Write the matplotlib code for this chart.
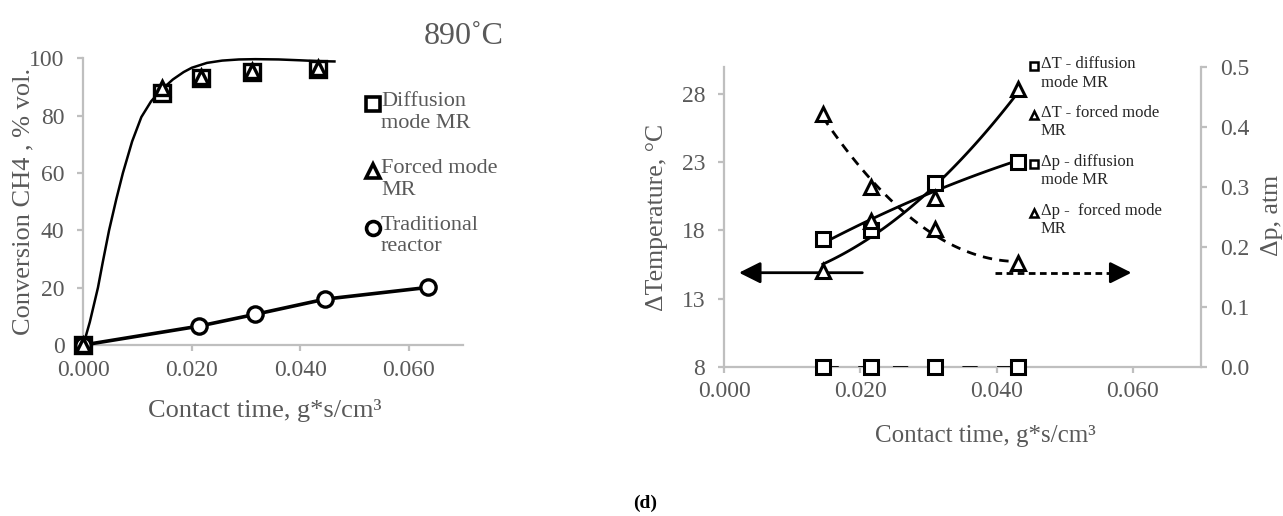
import numpy as np
import matplotlib
matplotlib.use("Agg")
import matplotlib.pyplot as plt
from matplotlib.ticker import FormatStrFormatter

plt.rcParams['font.family'] = ['Liberation Serif', 'DejaVu Serif']

W, H = 1283, 516

# ---- left panel data: CH4 conversion ----
mr_x = [0.0, 0.0145, 0.0217, 0.0311, 0.0433]
diffusion_conv = [0.0, 87.8, 93.0, 95.3, 96.2]
forced_conv = [0.0, 89.5, 93.6, 95.7, 96.5]
trad_x = [0.0, 0.0214, 0.0317, 0.0446, 0.0636]
trad_conv = [0.0, 6.6, 10.7, 16.0, 20.1]
# smooth trend curve for the membrane reactor
fit_x = [0.0, 0.0012, 0.0027, 0.0036, 0.00475, 0.0061, 0.0073, 0.009, 0.0107,
         0.0125, 0.0143, 0.0165, 0.0185, 0.020, 0.0228, 0.0256, 0.0287,
         0.0317, 0.036, 0.040, 0.0435, 0.0463]
fit_y = [0.0, 8.0, 20.0, 29.0, 40.0, 51.0, 60.0, 71.0, 79.5,
         85.0, 88.8, 92.6, 95.2, 96.7, 98.4, 99.2, 99.6,
         99.7, 99.6, 99.3, 99.0, 98.9]
left_labels = ["Diffusion\nmode MR", "Forced mode\nMR", "Traditional\nreactor"]

# ---- right panel data: temperature / pressure drop ----
dx = [0.0145, 0.0215, 0.031, 0.0432]
dT_diffusion = [17.4, 18.0, 21.5, 23.0]
dT_forced = [15.0, 18.7, 20.4, 28.4]
dp_diffusion = [0.0, 0.0, 0.0, 0.0]
dp_forced = [0.422, 0.300, 0.229, 0.173]
right_labels = ["ΔT - diffusion\nmode MR", "ΔT - forced mode\nMR",
                "Δp - diffusion\nmode MR", "Δp -  forced mode\nMR"]

GRID = '#bfbfbf'
TXT = '#595959'

fig = plt.figure(figsize=(W / 100, H / 100), dpi=100)


def px_axes(x0, y0, x1, y1):
    return fig.add_axes([x0 / W, 1 - y1 / H, (x1 - x0) / W, (y1 - y0) / H])


def style(ax, sides):
    for s in ['top', 'right', 'left', 'bottom']:
        ax.spines[s].set_visible(s in sides)
        ax.spines[s].set_color(GRID)
        ax.spines[s].set_linewidth(1.6)
    ax.tick_params(direction='out', length=4.5, width=1.6, color=GRID,
                   labelcolor=TXT, labelsize=17)
    ax.tick_params(axis='x', pad=6)
    ax.tick_params(axis='y', pad=9)


# ================= left panel =================
ax1 = px_axes(83.3, 58.3, 463, 345)
style(ax1, ['left', 'bottom'])
ax1.set_xlim(0, 0.07)
ax1.set_ylim(0, 100)
ax1.set_xticks([0.0, 0.02, 0.04, 0.06])
ax1.xaxis.set_major_formatter(FormatStrFormatter('%.3f'))
ax1.set_yticks(range(0, 101, 20))

ax1.plot(trad_x, trad_conv, color='black', lw=2.6, zorder=3, clip_on=False)
ax1.plot(fit_x, fit_y, color='black', lw=1.8, zorder=3, clip_on=False)
ax1.plot(mr_x, diffusion_conv, ls='none', marker='s', ms=11, mfc='white',
         mec='black', mew=2.4, zorder=4, clip_on=False)
ax1.plot(mr_x, forced_conv, ls='none', marker='^', ms=10, mfc='white',
         mec='black', mew=2.4, zorder=5, clip_on=False)
ax1.plot(trad_x, trad_conv, ls='none', marker='o', ms=11, mfc='white',
         mec='black', mew=2.4, zorder=4, clip_on=False)

fig.text(23 / W, 1 - 201.5 / H, "Conversion CH4 , % vol.", rotation=90,
         ha='center', va='center', fontsize=19, color=TXT)
fig.text(265 / W, 1 - 411 / H, "Contact time, g*s/cm³",
         ha='center', va='center', fontsize=19, color=TXT)
fig.text(464 / W, 1 - 36 / H, "890˚C", ha='center', va='center',
         fontsize=23, color=TXT)

left_markers = ['s', '^', 'o']
left_rows = [104, 171, 227.5]
for mk, lab, yr in zip(left_markers, left_labels, left_rows):
    fig.lines.append(plt.Line2D([372.5 / W], [1 - yr / H], marker=mk,
                                ms=10 if mk != '^' else 9.5, mfc='white',
                                mec='black', mew=2.6, ls='none',
                                transform=fig.transFigure))
    fig.text(381 / W, 1 - (yr - 12) / H, lab, ha='left', va='top',
             fontsize=16, color=TXT, linespacing=1.2)

# ================= right panel =================
ax2 = px_axes(724, 67, 1201, 366.7)
style(ax2, ['left', 'bottom'])
ax2.set_xlim(0, 0.07)
ax2.set_ylim(8, 30)
ax2.set_xticks([0.0, 0.02, 0.04, 0.06])
ax2.xaxis.set_major_formatter(FormatStrFormatter('%.3f'))
ax2.set_yticks([8, 13, 18, 23, 28])

ax3 = ax2.twinx()
style(ax3, ['right'])
ax3.set_ylim(0, 0.5)
ax3.set_yticks(np.arange(0, 0.51, 0.1))
ax3.yaxis.set_major_formatter(FormatStrFormatter('%.1f'))

xs = np.linspace(dx[0], dx[-1], 100)
for yv in (dT_diffusion, dT_forced):
    c = np.polyfit(dx, yv, 2)
    ax2.plot(xs, np.polyval(c, xs), color='black', lw=2.0, zorder=3)
ax2.plot(dx, dT_diffusion, ls='none', marker='s', ms=10, mfc='white',
         mec='black', mew=2.2, zorder=4)
ax2.plot(dx, dT_forced, ls='none', marker='^', ms=10, mfc='white',
         mec='black', mew=2.2, zorder=4)

c = np.polyfit(dx, dp_forced, 2)
ax3.plot(xs, np.polyval(c, xs), color='black', lw=2.0, dashes=(3.4, 2.6))
ax3.plot(dx, dp_diffusion, color='black', lw=2.0, dashes=(5.5, 7.0), zorder=3)
ax3.plot(dx, dp_diffusion, ls='none', marker='s', ms=10, mfc='white',
         mec='black', mew=2.2, zorder=4, clip_on=False)
ax3.plot(dx, dp_forced, ls='none', marker='^', ms=10, mfc='white',
         mec='black', mew=2.2, zorder=4)

# axis direction arrows
head = '-|>,head_length=1.3,head_width=0.65'
ax2.annotate('', xy=(0.0022, 14.9), xytext=(0.0203, 14.9),
             arrowprops=dict(arrowstyle=head, lw=2.0, color='black',
                             shrinkA=0, shrinkB=0))
ax2.plot([0.0398, 0.0585], [14.9, 14.9], color='black', lw=2.0,
         dashes=(2.4, 1.6))
ax2.annotate('', xy=(0.0598, 14.9), xytext=(0.0580, 14.9),
             arrowprops=dict(arrowstyle=head, lw=2.0, color='black',
                             shrinkA=0, shrinkB=0))

fig.text(657 / W, 1 - 217 / H, "ΔTemperature, °C", rotation=90,
         ha='center', va='center', fontsize=18.5, color=TXT)
fig.text(1272 / W, 1 - 215 / H, "Δp, atm", rotation=90,
         ha='center', va='center', fontsize=18.5, color=TXT)
fig.text(985 / W, 1 - 436 / H, "Contact time, g*s/cm³",
         ha='center', va='center', fontsize=18, color=TXT)

right_markers = ['s', '^', 's', '^']
right_rows = [66, 114.5, 163.5, 212.5]
for mk, lab, yr in zip(right_markers, right_labels, right_rows):
    fig.lines.append(plt.Line2D([1034 / W], [1 - yr / H], marker=mk,
                                ms=6, mfc='white', mec='black', mew=1.8,
                                ls='none', transform=fig.transFigure))
    fig.text(1041 / W, 1 - (yr - 9.5) / H, lab, ha='left', va='top',
             fontsize=12, color='#262626', linespacing=1.2)

fig.text(645 / W, 1 - 503 / H, "(d)", ha='center', va='center',
         fontsize=14, fontweight='bold', color='black')

fig.savefig("out.png", dpi=100)
